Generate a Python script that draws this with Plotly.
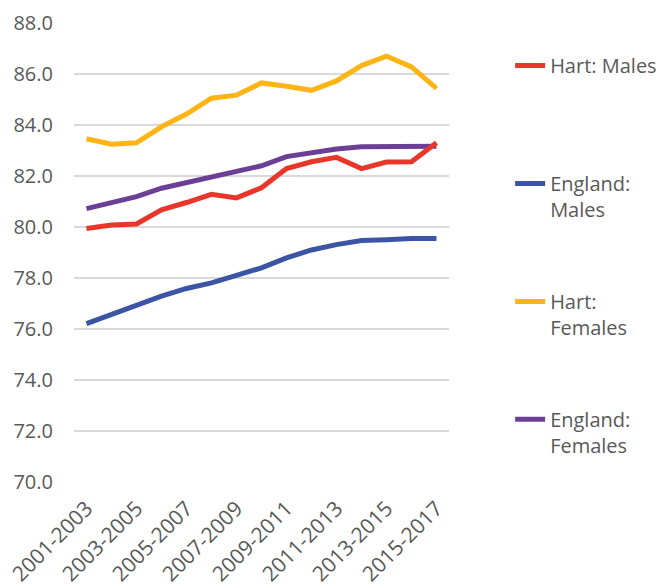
import plotly.graph_objects as go

periods = [
    "2001-2003", "2002-2004", "2003-2005", "2004-2006", "2005-2007",
    "2006-2008", "2007-2009", "2008-2010", "2009-2011", "2010-2012",
    "2011-2013", "2012-2014", "2013-2015", "2014-2016", "2015-2017",
]

hart_males = [79.94, 80.08, 80.12, 80.67, 80.96, 81.28, 81.14, 81.54,
              82.29, 82.56, 82.73, 82.29, 82.55, 82.56, 83.30]
england_males = [76.21, 76.57, 76.92, 77.29, 77.59, 77.81, 78.10, 78.40,
                 78.79, 79.10, 79.31, 79.47, 79.50, 79.55, 79.55]
hart_females = [83.46, 83.25, 83.30, 83.93, 84.43, 85.05, 85.17, 85.65,
                85.52, 85.36, 85.73, 86.33, 86.70, 86.28, 85.44]
england_females = [80.72, 80.97, 81.19, 81.52, 81.74, 81.91, 82.17, 82.40,
                   82.76, 82.91, 83.06, 83.15, 83.15, 83.17, 83.17]

y_ticks = [70, 72, 74, 76, 78, 80, 82, 84, 86, 88]
x_ticks = periods[::2]

series = [
    ("Hart: Males", hart_males, "#E8372A", "legend", 0.950),
    ("England:<br>Males", england_males, "#3B54A4", "legend2", 0.693),
    ("Hart:<br>Females", hart_females, "#FDB515", "legend3", 0.436),
    ("England:<br>Females", england_females, "#6C3F97", "legend4", 0.179),
]

FONT = "Open Sans"
TEXT = "#595959"

fig = go.Figure()
# draw in reverse so the first series sits on top
for name, vals, color, leg, _ in series[::-1]:
    fig.add_trace(go.Scatter(
        x=periods, y=vals, name=name, mode="lines",
        line=dict(color=color, width=5),
        legend=leg, showlegend=True,
    ))

layout_legends = {}
for name, vals, color, leg, ly in series:
    layout_legends[leg] = dict(
        x=1.163, y=ly, xanchor="left", yanchor="top",
        font=dict(family=FONT, size=20, color=TEXT),
        valign="top", itemwidth=30,
        bgcolor="rgba(0,0,0,0)",
        visible=True,
    )

fig.update_layout(
    width=662, height=586,
    margin=dict(l=74, r=213, t=23, b=104, autoexpand=False),
    plot_bgcolor="white", paper_bgcolor="white",
    showlegend=True,
    font=dict(family=FONT, size=20, color=TEXT),
    xaxis=dict(
        type="category", tickmode="array", tickvals=x_ticks, ticktext=x_ticks,
        tickangle=-45, showgrid=False, showline=False, ticks="",
        tickfont=dict(family=FONT, size=21, color=TEXT),
        ticklabelstandoff=9, automargin=False,
        range=[-0.5, len(periods) - 0.5],
    ),
    yaxis=dict(
        range=[70, 88], tickvals=y_ticks, tickformat=".1f",
        showgrid=True, gridcolor="#D9D9D9", gridwidth=1.5,
        zeroline=False, showline=False, ticks="",
        tickfont=dict(family=FONT, size=20, color=TEXT),
        ticklabelstandoff=20, automargin=False,
    ),
    **layout_legends,
)

fig.write_html("out.html")
